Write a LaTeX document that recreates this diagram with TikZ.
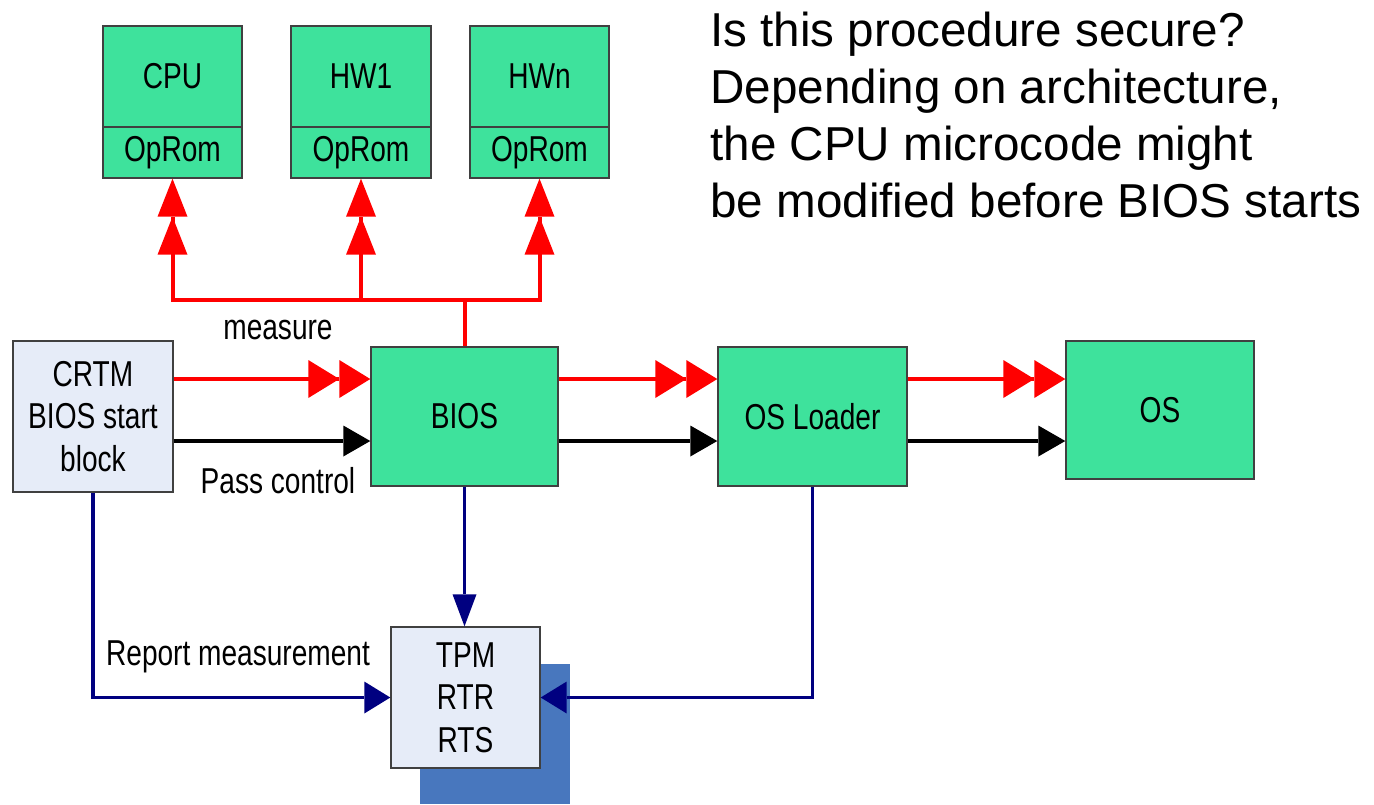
\documentclass[tikz,border=0pt]{standalone}
\usepackage{fontspec}
\setmainfont{Liberation Sans}
\newfontfamily\narrowfont[FakeStretch=0.78]{Liberation Sans}
\usetikzlibrary{arrows.meta}
\definecolor{boxgreen}{HTML}{3EE29C}
\definecolor{boxblue}{HTML}{E6ECF8}
\definecolor{navy}{HTML}{000080}
\definecolor{shadowblue}{HTML}{4877BE}
\definecolor{edgegray}{HTML}{404040}
\begin{document}
\begin{tikzpicture}[x=0.5pt,y=-0.5pt,
  box/.style={draw=edgegray,line width=0.7pt,inner sep=0pt,align=center,
    font=\narrowfont\fontsize{18}{21.25}\selectfont},
  gbox/.style={box,fill=boxgreen},
  lbox/.style={box,fill=boxblue},
  lbl/.style={inner sep=0pt,font=\narrowfont\fontsize{18}{21.25}\selectfont},
  redh/.style={red,line width=2pt,
    -{Triangle[length=15.5pt,width=19pt,sep=0pt,line width=0pt]Triangle[length=15.5pt,width=19pt,sep=0pt,line width=0pt]}},
  redv/.style={red,line width=2pt,
    -{Triangle[length=19pt,width=15pt,sep=0pt,line width=0pt]Triangle[length=19pt,width=15pt,sep=0pt,line width=0pt]}},
  blk/.style={black,line width=2pt,-{Triangle[length=13.5pt,width=15.5pt,line width=0pt]}},
  navyv/.style={navy,line width=1.7pt,-{Triangle[length=16pt,width=12pt,line width=0pt]}},
  navyh/.style={navy,line width=1.7pt,-{Triangle[length=13pt,width=16pt,line width=0pt]}}
]
\useasboundingbox (0,0) rectangle (1374,804);
\clip (0,0) rectangle (1374,804);

% top hardware boxes
\node[gbox,minimum width=69.5pt,minimum height=50.5pt] (cpu) at (172.5,76.5) {CPU};
\node[gbox,minimum width=69.5pt,minimum height=25.5pt] (cpurom) at (172.5,152.5) {OpRom};
\node[gbox,minimum width=70pt,minimum height=50.5pt] (hw1) at (361,76.5) {HW1};
\node[gbox,minimum width=70pt,minimum height=25.5pt] (hw1rom) at (361,152.5) {OpRom};
\node[gbox,minimum width=69.5pt,minimum height=50.5pt] (hwn) at (539.5,76.5) {HWn};
\node[gbox,minimum width=69.5pt,minimum height=25.5pt] (hwnrom) at (539.5,152.5) {OpRom};

% main chain
\node[lbox,minimum width=80pt,minimum height=75.5pt] (crtm) at (93,416.5) {CRTM\\BIOS start\\block};
\node[gbox,minimum width=93.5pt,minimum height=69.5pt] (bios) at (464.5,416.5) {BIOS};
\node[gbox,minimum width=94.5pt,minimum height=69.5pt] (osl) at (812.5,416.5) {OS Loader};
\node[gbox,minimum width=94pt,minimum height=69pt] (os) at (1160,410) {OS};

% TPM with shadow
\fill[shadowblue] (420,664) rectangle (570,804);
\node[lbox,minimum width=74.5pt,minimum height=70.5pt] (tpm) at (465.5,697.5) {TPM\\RTR\\RTS};

% helper coordinates
\coordinate (rl) at (0,379);
\coordinate (bl) at (0,441);
\coordinate (j) at (464.5,300);

% measure tree
\draw[redv] (bios.north) -- (j) -| (cpurom.south);
\draw[redv] (bios.north) -- (j) -| (hw1rom.south);
\draw[redv] (bios.north) -- (j) -| (hwnrom.south);

% red measure arrows
\draw[redh] (crtm.east |- rl) -- (bios.west |- rl);
\draw[redh] (bios.east |- rl) -- (osl.west |- rl);
\draw[redh] (osl.east |- rl) -- (os.west |- rl);

% black pass control arrows
\draw[blk] (crtm.east |- bl) -- (bios.west |- bl);
\draw[blk] (bios.east |- bl) -- (osl.west |- bl);
\draw[blk] (osl.east |- bl) -- (os.west |- bl);

% report measurement arrows
\draw[navyh] (crtm.south) |- (tpm.west);
\draw[navyv] (bios.south) -- (bios.south |- tpm.north);
\draw[navyh] (osl.south) |- (tpm.east);

% labels
\node[lbl] (measure) at (278,330) {measure};
\node[lbl] (pass) at (278,481) {Pass control};
\node[lbl] (report) at (238,657) {Report measurement};

\node[inner sep=0pt,anchor=north west,align=left,font=\fontsize{23.8}{28.5}\selectfont] (question) at (710,12)
  {Is this procedure secure?\\Depending on architecture,\\the CPU microcode might\\be modified before BIOS starts};
\end{tikzpicture}
\end{document}
